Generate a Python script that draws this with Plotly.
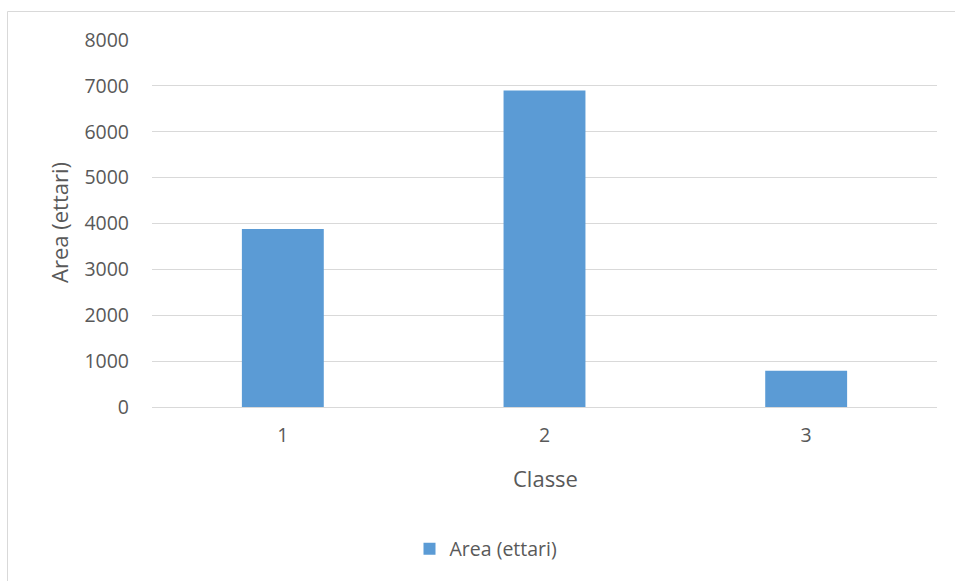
import plotly.graph_objects as go

categories = ["1", "2", "3"]
values = [3880, 6900, 790]
y_ticks = [0, 1000, 2000, 3000, 4000, 5000, 6000, 7000, 8000]
series_name = "Area (ettari)"
x_title = "Classe"
y_title = "Area (ettari)"

W, H = 955, 581
L, R, T, B = 152, 18, 40, 174
pw, ph = W - L - R, H - T - B

def px(x):
    return (x - L) / pw

def py(y):
    return (H - B - y) / ph

FONT = "Open Sans"
TXT = "#595959"
GRID = "#D9D9D9"

fig = go.Figure()
fig.add_trace(go.Bar(x=categories, y=values, name=series_name,
                     marker=dict(color="#5B9BD5", line=dict(width=0))))

fig.update_layout(
    width=W, height=H,
    margin=dict(l=L, r=R, t=T, b=B, pad=0),
    paper_bgcolor="white", plot_bgcolor="white",
    font=dict(family=FONT, color=TXT, size=19),
    bargap=0.687,
    showlegend=True,
    legend=dict(orientation="h", x=px(486), xanchor="center", y=py(549), yanchor="middle",
                font=dict(size=19.5, color=TXT), itemwidth=30),
    xaxis=dict(type="category", showgrid=False, showline=True, linecolor=GRID, linewidth=1,
               ticks="", tickfont=dict(size=19.5, color=TXT), ticklabelstandoff=11),
    yaxis=dict(range=[0, 8000], tickvals=y_ticks, showgrid=True, gridcolor=GRID, gridwidth=1,
               zeroline=False, showline=False, ticks="", tickfont=dict(size=19.5, color=TXT),
               ticklabelstandoff=22),
    annotations=[
        dict(text=x_title, x=px(545), y=py(478), xref="paper", yref="paper",
             showarrow=False, font=dict(size=22, color=TXT), xanchor="center", yanchor="middle"),
        dict(text=y_title, x=px(59), y=py(223), xref="paper", yref="paper", textangle=-90,
             showarrow=False, font=dict(size=22, color=TXT), xanchor="center", yanchor="middle"),
    ],
    shapes=[
        dict(type="line", xref="paper", yref="paper", x0=px(7.5), x1=px(960), y0=py(11.5), y1=py(11.5),
             line=dict(color=GRID, width=1)),
        dict(type="line", xref="paper", yref="paper", x0=px(7.5), x1=px(7.5), y0=py(11.5), y1=py(600),
             line=dict(color=GRID, width=1)),
    ],
)

fig.write_html("out.html")
